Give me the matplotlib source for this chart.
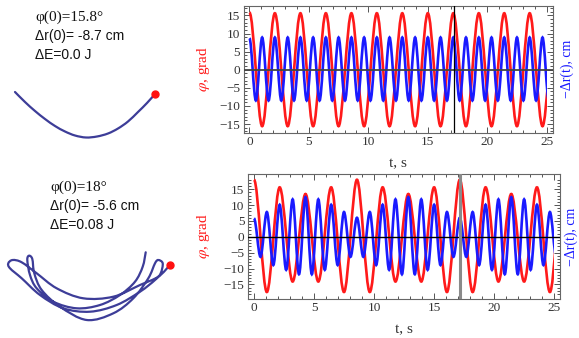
import matplotlib
matplotlib.use("Agg")
import matplotlib.pyplot as plt
from matplotlib.path import Path
from matplotlib.patches import PathPatch, Rectangle

plt.rcParams["mathtext.fontset"] = "stix"

# extremum times (s) of phi and of -dr
t_phi = [0, 1.07, 2.14, 3.22, 4.29, 5.36, 6.43, 7.5, 8.58, 9.65, 10.72, 11.79,
         12.86, 13.94, 15.01, 16.08, 17.15, 18.22, 19.3, 20.37, 21.44, 22.51,
         23.58, 24.66, 25.73]
t_dr = [0, 0.54, 1.07, 1.61, 2.14, 2.68, 3.22, 3.75, 4.29, 4.82, 5.36, 5.9,
        6.43, 6.97, 7.5, 8.04, 8.58, 9.11, 9.65, 10.18, 10.72, 11.26, 11.79, 12.33,
        12.86, 13.4, 13.94, 14.47, 15.01, 15.54, 16.08, 16.62, 17.15, 17.69, 18.22, 18.76,
        19.3, 19.83, 20.37, 20.9, 21.44, 21.98, 22.51, 23.05, 23.58, 24.12, 24.66, 25.19]

# upper case: phi(0)=15.8 deg
phi1 = [15.8, -15.6, 15.6, -15.6, 15.6, -15.6, 15.6, -15.6, 15.6, -15.6, 15.6, -15.6,
        15.6, -15.6, 15.6, -15.6, 15.6, -15.6, 15.6, -15.6, 15.6, -15.6, 15.6, -15.6, 15.6]
dr1 = [8.7, -8.5, 8.9, -8.5, 8.9, -8.5, 8.9, -8.5, 8.9, -8.5, 8.9, -8.5,
       8.9, -8.5, 8.9, -8.5, 8.9, -8.5, 8.9, -8.5, 8.9, -8.5, 8.9, -8.5,
       8.9, -8.5, 8.9, -8.5, 8.9, -8.5, 8.9, -8.5, 8.9, -8.5, 8.9, -8.5,
       8.9, -8.5, 8.9, -8.5, 8.9, -8.5, 8.9, -8.5, 8.9, -8.5, 8.9, -8.5]

# lower case: phi(0)=18 deg, energy exchange
phi2 = [18, -17.4, 15.6, -14.1, 13.5, -14.1, 15.6, -17.4, 18, -17.4, 15.6, -14.1,
        13.5, -14.1, 15.6, -17.4, 18, -17.4, 15.6, -14.1, 13.5, -14.1, 15.6, -17.4, 18]
dr2 = [5.8, -6.3, 7.8, -8.9, 10.1, -10.4, 11.8, -11.8, 12.5, -11.8, 11.8, -10.4, 10.1, -8.9, 7.8, -6.3,
       6.0, -6.3, 7.8, -8.9, 10.1, -10.4, 11.8, -11.8, 12.5, -11.8, 11.8, -10.4, 10.1, -8.9, 7.8, -6.3,
       6.0, -6.3, 7.8, -8.9, 10.1, -10.4, 11.8, -11.8, 12.5, -11.8, 11.8, -10.4, 10.1, -8.9, 7.8, -6.3]

t_end = 25
t_mark = [17.24, 17.2]

# bob trajectories (picture pixels)
traj1_x = [15, 25, 35, 45, 55, 65, 75, 86, 97, 108, 118, 128, 138, 147, 155]
traj1_y = [92, 102, 111, 119, 126, 131.5, 135.5, 137.5, 136.5, 133.5, 128.5, 121.5, 112, 103, 94]
traj2_x = [145.7, 142.7, 135, 120, 100, 76.7, 53.3, 36.7, 30, 27.3, 29, 32.3, 34.3, 41.7,
           60, 86.7, 113.3, 133.3, 148.3, 155, 158.3, 162.7, 160.7, 155, 140, 116.7, 90,
           63.3, 40, 21.7, 10, 8.3, 12.7, 21.7, 36.7, 56.7, 83.3, 113.3, 140, 158.3, 170]
traj2_y = [252.3, 266.7, 281.7, 295, 305, 308.3, 301.7, 288.3, 275, 260, 255.7, 259, 273.3, 290,
           306.7, 320, 313.3, 298.3, 278.3, 263.3, 260, 263.3, 273.3, 280, 291.7, 305, 311.7,
           308.3, 295, 278.3, 268.3, 263.3, 260, 262.3, 273.3, 288.3, 298.3, 296.7, 285, 276.7, 265]

info1 = ["\u03c6(0)=15.8\u00b0", "\u0394r(0)= -8.7 cm", "\u0394E=0.0 J"]
info2 = ["\u03c6(0)=18\u00b0", "\u0394r(0)= -5.6 cm", "\u0394E=0.08 J"]

W, H = 579, 338
SERIF = "Liberation Serif"
SANS = "Liberation Sans"
TRAJ = "#3d3d98"


def wave_path(ts, vs):
    # horizontal tangent at every extremum
    verts = [(ts[0], vs[0])]
    codes = [Path.MOVETO]
    for i in range(1, len(ts)):
        t0, v0, t1, v1 = ts[i - 1], vs[i - 1], ts[i], vs[i]
        d = t1 - t0
        verts += [(t0 + d / 3, v0), (t1 - d / 3, v1), (t1, v1)]
        codes += [Path.CURVE4] * 3
    return Path(verts, codes)


def smooth_path(xs, ys):
    pts = list(zip(xs, ys))
    verts = [pts[0]]
    codes = [Path.MOVETO]
    for i in range(len(pts) - 1):
        p0 = pts[i - 1] if i > 0 else pts[i]
        p1, p2 = pts[i], pts[i + 1]
        p3 = pts[i + 2] if i + 2 < len(pts) else pts[i + 1]
        c1 = (p1[0] + (p2[0] - p0[0]) / 6, p1[1] + (p2[1] - p0[1]) / 6)
        c2 = (p2[0] - (p3[0] - p1[0]) / 6, p2[1] - (p3[1] - p1[1]) / 6)
        verts += [c1, c2, p2]
        codes += [Path.CURVE4] * 3
    return Path(verts, codes)


def px_axes(l, t, r, b):
    return fig.add_axes([l / W, 1 - b / H, (r - l) / W, (b - t) / H])


fig = plt.figure(figsize=(W / 100, H / 100), dpi=100)
bg = fig.add_axes([0, 0, 1, 1])
bg.set_xlim(0, W)
bg.set_ylim(H, 0)
bg.axis("off")

boxes = [(243.5, 6, 552.5, 132.7), (248, 174, 560, 299)]
ylims = [(-17.4, 17.6), (-19.6, 19.8)]
series = [(phi1, dr1), (phi2, dr2)]
zero_style = [("#444444", 1.3), ("black", 1.0)]
mark_style = [("black", 0.9), ("#8a8a8a", 2.2)]
rlab_x = [567, 571]

for k in range(2):
    ax = px_axes(*boxes[k])
    ax.set_facecolor("none")
    ax.set_xlim(-0.5, 25.5)
    ax.set_ylim(*ylims[k])
    clip = Rectangle((-1, -40), t_end + 1, 80, transform=ax.transData)
    phi, dr = series[k]
    for ts, vs, col in [(t_phi, phi, "#ff1a1a"), (t_dr, dr, "#1a1aff")]:
        pp = PathPatch(wave_path(ts, vs), fill=False, edgecolor=col, lw=1.9,
                       capstyle="butt", zorder=2)
        ax.add_patch(pp)
        pp.set_clip_path(clip)
    ax.axhline(0, color=zero_style[k][0], lw=zero_style[k][1], zorder=3)
    ax.axvline(t_mark[k], color=mark_style[k][0], lw=mark_style[k][1], zorder=3)

    ax.set_xticks(range(0, 26, 5))
    ax.set_xticks(range(0, 26), minor=True)
    ax.set_yticks(range(-15, 16, 5))
    ax.set_yticks(range(-18 if k else -17, 19 if k else 18), minor=True)
    ax.tick_params(which="both", direction="in", top=True, right=True,
                   colors="#555555", labelcolor="#333333", width=0.7)
    ax.tick_params(which="major", length=4, labelsize=9.5, pad=2.5)
    ax.tick_params(which="minor", length=2)
    for lab in ax.get_xticklabels() + ax.get_yticklabels():
        lab.set_fontfamily(SERIF)
    for s in ax.spines.values():
        s.set_color("#666666")
        s.set_linewidth(0.8)

    l, t, r, b = boxes[k]
    mid = (t + b) / 2
    bg.text(203, mid, "$\\varphi$, grad", color="#ff1a1a", fontsize=11,
            family=SERIF, rotation=90, ha="center", va="center")
    bg.text(rlab_x[k], mid, "\u2212\u0394r(t), cm", color="#1a1aff", fontsize=10,
            family=SERIF, rotation=90, ha="center", va="center")
    bg.text((l + r) / 2, b + 31, "t, s", color="#333333", fontsize=11,
            family=SERIF, ha="center", va="center")

# left side: initial conditions and bob paths
for k, (info, x0, y0) in enumerate([(info1, 35, 17), (info2, 50, 187)]):
    bg.text(x0, y0, info[0], fontsize=11, family=SERIF, va="center", color="#111111")
    bg.text(x0, y0 + 19, info[1], fontsize=10, family=SANS, va="center", color="#111111")
    bg.text(x0, y0 + 38, info[2], fontsize=10, family=SANS, va="center", color="#111111")

for xs, ys in [(traj1_x, traj1_y), (traj2_x, traj2_y)]:
    bg.add_patch(PathPatch(smooth_path(xs, ys), fill=False, edgecolor=TRAJ,
                           lw=1.6, capstyle="round", joinstyle="round"))
    bg.plot(xs[-1], ys[-1], "o", color="#ff1010", ms=5, zorder=4)

fig.savefig("out.png", dpi=100)
